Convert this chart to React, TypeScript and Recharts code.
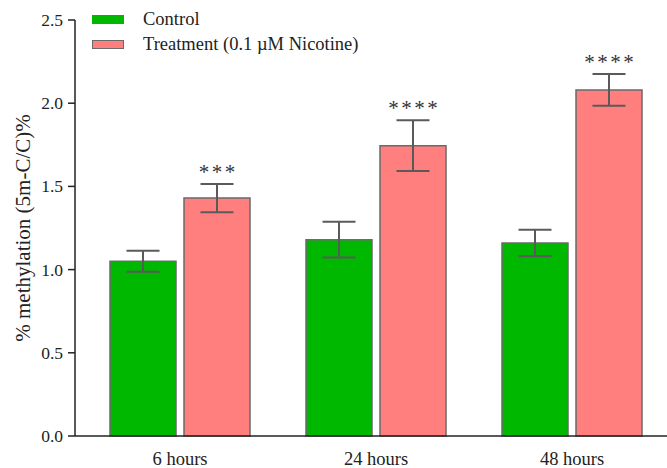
import { BarChart, Bar, XAxis, YAxis, ErrorBar, LabelList } from "recharts";

const timepoints = ["6 hours", "24 hours", "48 hours"];
const control = [1.05, 1.18, 1.16];
const controlErr = [0.063, 0.108, 0.08];
const treatment = [1.43, 1.745, 2.08];
const treatmentErr = [0.085, 0.153, 0.095];
const significance = ["***", "****", "****"];
const yTicks = [0, 0.5, 1.0, 1.5, 2.0, 2.5];

const seriesNames = ["Control", "Treatment (0.1 \u00b5M Nicotine)"];
const GREEN = "#00b800";
const PINK = "#ff7f7f";
const EDGE = "#6a6a6a";
const FONT = "'Liberation Serif', 'Times New Roman', serif";

const data = timepoints.map((t, i) => ({
  name: t,
  control: control[i],
  controlErr: controlErr[i],
  treatment: treatment[i],
  treatmentErr: treatmentErr[i],
  sig: significance[i],
}));

function Stars(props: any) {
  const { x, y, width, height, value, index } = props;
  const pxPerUnit = height / treatment[index];
  const capTop = y - treatmentErr[index] * pxPerUnit;
  return (
    <text
      x={x + width / 2 + 1.2}
      y={capTop - 5}
      textAnchor="middle"
      fontSize={21}
      letterSpacing={2.5}
      fill="#333"
      fontFamily={FONT}
    >
      {value}
    </text>
  );
}

function YTick(props: any) {
  const { x, y, payload } = props;
  return (
    <text x={x} y={y} textAnchor="end" dominantBaseline="central" fontSize={17.5} fill="#222" fontFamily={FONT}>
      {Number(payload.value).toFixed(1)}
    </text>
  );
}

function YTitle() {
  return (
    <text
      x={23}
      y={228}
      transform="rotate(-90, 23, 228)"
      textAnchor="middle"
      dominantBaseline="central"
      fontSize={21}
      fill="#222"
      fontFamily={FONT}
    >
      % methylation (5m-C/C)%
    </text>
  );
}

export default function App() {
  const colors = [GREEN, PINK];
  return (
    <div
      style={{
        position: "absolute",
        left: 0,
        top: 0,
        width: 667,
        height: 468,
        overflow: "hidden",
        background: "#fff",
        fontFamily: FONT,
      }}
    >
      <BarChart
        width={670}
        height={468}
        data={data}
        margin={{ top: 20, right: 0, left: 0, bottom: 0 }}
        barCategoryGap={28}
        barGap={8}
      >
        <XAxis
          dataKey="name"
          height={32}
          padding={{ left: 7, right: 0 }}
          tickLine={false}
          tickSize={0}
          tickMargin={16}
          axisLine={{ stroke: "#222", strokeWidth: 1.5 }}
          tick={{ fill: "#222", fontSize: 18.5, fontFamily: FONT }}
        />
        <YAxis
          width={75}
          domain={[0, 2.5]}
          ticks={yTicks}
          interval={0}
          tickSize={7}
          tickMargin={5}
          axisLine={{ stroke: "#222", strokeWidth: 1.5 }}
          tickLine={{ stroke: "#222", strokeWidth: 1.5 }}
          tick={(p: any) => <YTick {...p} />}
          label={{ content: () => <YTitle /> }}
        />
        <Bar dataKey="control" fill={GREEN} stroke={EDGE} strokeWidth={1.5} isAnimationActive={false}>
          <ErrorBar dataKey="controlErr" width={16.5} stroke="#5a5a5a" strokeWidth={2} direction="y" />
        </Bar>
        <Bar dataKey="treatment" fill={PINK} stroke={EDGE} strokeWidth={1.5} isAnimationActive={false}>
          <ErrorBar dataKey="treatmentErr" width={16.5} stroke="#5a5a5a" strokeWidth={2} direction="y" />
          <LabelList dataKey="sig" content={(p: any) => <Stars {...p} />} />
        </Bar>
      </BarChart>
      <div style={{ position: "absolute", left: 92, top: 7, fontSize: 18.5, color: "#222", lineHeight: "25px" }}>
        {seriesNames.map((n, i) => (
          <div key={n} style={{ display: "flex", alignItems: "center", height: 25 }}>
            <span
              style={{
                display: "inline-block",
                width: 30,
                height: 7,
                background: colors[i],
                border: `1px solid ${i === 0 ? GREEN : EDGE}`,
                marginRight: 19,
              }}
            />
            <span>{n}</span>
          </div>
        ))}
      </div>
    </div>
  );
}
